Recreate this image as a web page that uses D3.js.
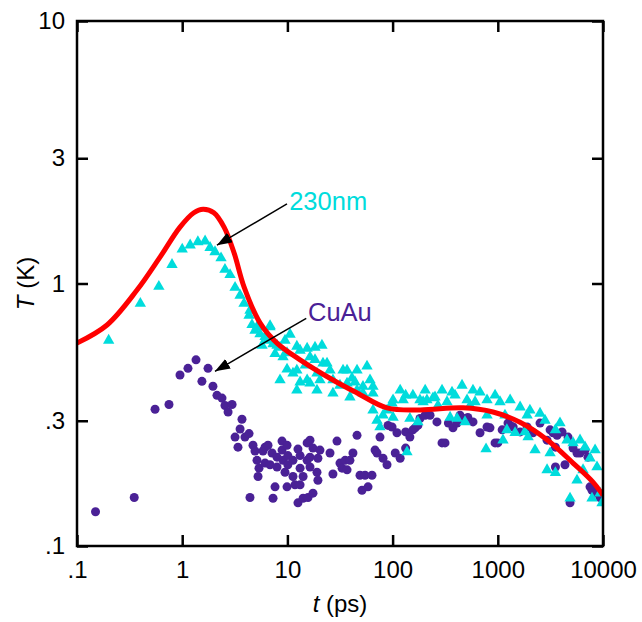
<!DOCTYPE html>
<html>
<head>
<meta charset="utf-8">
<script src="https://cdn.jsdelivr.net/npm/d3@7"></script>
<style>
  html, body { margin: 0; padding: 0; background: #fff; }
  svg text { font-family: "Liberation Sans", Arial, sans-serif; }
</style>
</head>
<body>
<svg id="chart" width="642" height="622"></svg>
<script>
// t (ps), T (K)
var fitCurve = [
  [0.1, 0.593], [0.193, 0.695], [0.372, 0.944], [0.615, 1.26], [0.953, 1.64], [1.29, 1.86],
  [1.58, 1.92], [2.0, 1.86], [2.5, 1.64], [3.11, 1.31], [3.87, 0.971], [5.49, 0.708],
  [7.96, 0.593], [13.2, 0.512], [27.1, 0.429], [45.9, 0.383], [88.5, 0.336],
  [182, 0.330], [467, 0.336], [900, 0.324], [1626, 0.296], [2938, 0.254], [5190, 0.207],
  [8035, 0.175], [10000, 0.156]
];

var film230 = [
  [0.20, 0.607], [0.40, 0.839], [0.60, 0.974], [0.80, 1.18], [1.0, 1.35], [1.19, 1.40],
  [1.41, 1.44], [1.65, 1.45], [1.84, 1.37], [2.05, 1.32], [2.34, 1.25], [2.55, 1.13],
  [2.85, 1.08], [3.18, 0.965], [3.55, 0.901], [3.87, 0.839], [4.32, 0.756], [4.61, 0.696],
  [4.92, 0.662], [5.49, 0.642], [6.13, 0.627], [6.40, 0.607], [6.84, 0.683], [7.30, 0.588],
  [7.97, 0.581], [8.51, 0.571], [9.09, 0.525], [9.92, 0.544], [9.92, 0.471], [11.3, 0.455],
  [12.3, 0.576], [12.3, 0.467], [12.3, 0.392], [13.2, 0.421], [15.4, 0.566], [15.4, 0.429],
  [16.4, 0.525], [18.3, 0.571], [19.1, 0.455], [19.1, 0.392], [21.3, 0.581], [21.8, 0.497],
  [20.4, 0.429], [23.8, 0.497], [27.1, 0.429], [27.1, 0.382], [33.8, 0.467], [36.9, 0.467],
  [36.9, 0.417], [41.1, 0.436], [45.9, 0.467], [45.9, 0.392], [52.3, 0.405], [57.1, 0.484],
  [61.0, 0.429], [65.1, 0.382], [52.3, 0.382], [39.3, 0.369], [65.1, 0.329], [71.1, 0.301],
  [75.9, 0.284], [81.1, 0.315], [88.5, 0.329], [98.8, 0.350], [101, 0.309], [101, 0.360],
  [118, 0.392], [126, 0.360], [137, 0.228], [146, 0.306], [156, 0.375], [174, 0.297],
  [182, 0.360], [195, 0.354], [212, 0.360], [242, 0.366], [253, 0.369], [295, 0.392],
  [329, 0.354], [352, 0.309], [367, 0.385], [410, 0.306], [457, 0.409], [488, 0.297],
  [510, 0.360], [545, 0.343], [581, 0.392], [678, 0.385], [773, 0.234], [790, 0.360],
  [790, 0.315], [1050, 0.354], [1120, 0.253], [1170, 0.315], [1220, 0.277], [1460, 0.270],
  [1630, 0.338], [1810, 0.272], [1900, 0.315], [1940, 0.260], [2260, 0.232], [2520, 0.320],
  [2940, 0.195], [3140, 0.226], [3530, 0.190], [3900, 0.294], [4550, 0.253], [4860, 0.152],
  [5190, 0.247], [5660, 0.178], [6460, 0.195], [6750, 0.238], [7530, 0.216], [7860, 0.152],
  [8770, 0.200], [9370, 0.159], [9790, 0.146],
  [8.51, 0.429], [16.4, 0.417], [65.1, 0.405], [4.41, 0.790], [5.14, 0.683], [6.84, 0.690],
  [5.74, 0.581], [7.63, 0.540], [9.49, 0.607], [10.6, 0.640], [13.2, 0.556], [14.8, 0.488],
  [18.3, 0.512], [25.4, 0.467], [31.6, 0.409], [44.0, 0.421], [133, 0.375], [204, 0.392],
  [392, 0.375], [270, 0.343], [608, 0.354], [942, 0.375], [1310, 0.360], [2020, 0.329],
  [2810, 0.301], [3530, 0.277], [6050, 0.253], [8410, 0.232]
];

var cuAu = [
  [0.15, 0.135], [0.35, 0.153], [0.552, 0.332], [0.749, 0.346], [0.953, 0.448], [1.135, 0.475],
  [1.353, 0.512], [1.54, 0.424], [1.76, 0.475], [1.96, 0.406], [2.14, 0.375], [2.39, 0.366],
  [2.55, 0.343], [2.73, 0.324], [2.98, 0.346], [3.18, 0.260], [3.39, 0.238], [3.55, 0.279],
  [3.70, 0.304], [3.95, 0.260], [4.32, 0.268], [4.41, 0.153], [4.71, 0.242], [4.92, 0.230],
  [5.14, 0.212], [5.26, 0.184], [5.37, 0.198], [5.86, 0.230], [6.13, 0.238], [6.13, 0.207],
  [6.54, 0.242], [6.84, 0.204], [7.14, 0.226], [7.30, 0.152], [7.63, 0.168], [7.97, 0.218],
  [7.97, 0.200], [8.89, 0.251], [8.89, 0.232], [9.09, 0.212], [9.49, 0.191], [9.92, 0.242],
  [9.92, 0.168], [10.1, 0.221], [10.1, 0.204], [11.3, 0.212], [11.3, 0.184], [11.8, 0.171],
  [12.6, 0.234], [12.6, 0.146], [13.2, 0.221], [13.2, 0.198], [13.2, 0.171], [14.1, 0.184],
  [14.1, 0.152], [15.4, 0.247], [15.4, 0.212], [15.7, 0.153], [16.4, 0.253], [16.4, 0.218],
  [16.4, 0.200], [17.5, 0.236], [17.5, 0.159], [19.1, 0.191], [19.5, 0.216], [19.5, 0.178],
  [20.4, 0.232], [25.4, 0.226], [27.1, 0.188], [29.6, 0.251], [31.6, 0.207], [33.1, 0.198],
  [35.4, 0.212], [36.9, 0.195], [39.3, 0.212], [42.0, 0.226], [45.9, 0.264], [49.0, 0.186],
  [51.2, 0.163], [54.7, 0.186], [58.4, 0.168], [63.7, 0.186], [68.1, 0.232], [71.1, 0.226],
  [75.9, 0.260], [81.1, 0.216], [88.5, 0.204], [90.5, 0.288], [98.8, 0.284], [106, 0.226],
  [110, 0.270], [118, 0.216], [133, 0.272], [133, 0.236], [146, 0.260], [156, 0.277],
  [164, 0.282], [174, 0.288], [182, 0.306], [204, 0.315], [227, 0.315], [264, 0.297],
  [295, 0.247], [315, 0.247], [339, 0.294], [375, 0.282], [410, 0.294], [437, 0.315],
  [467, 0.306], [519, 0.309], [581, 0.297], [678, 0.270], [790, 0.284], [843, 0.282],
  [942, 0.247], [1000, 0.247], [1100, 0.277], [1250, 0.294], [1310, 0.288], [1400, 0.284],
  [1630, 0.272], [1900, 0.284], [2160, 0.270], [2520, 0.294], [2940, 0.253], [3140, 0.277],
  [3350, 0.270], [3530, 0.238], [3530, 0.200], [3660, 0.264], [4080, 0.272], [4350, 0.204],
  [4650, 0.260], [5190, 0.236], [5660, 0.226], [6050, 0.226], [6750, 0.232], [7200, 0.218],
  [7530, 0.168], [7860, 0.163], [8770, 0.159], [9370, 0.153], [4860, 0.146]
];

var xTicks = [0.1, 1, 10, 100, 1000, 10000];
var yTicks = [0.1, 0.3, 1, 3, 10];

// annotation: label anchor and arrow (tail -> tip), in data units
var notes = [
  { text: '230nm', color: '#00dcdc', at: [10.4, 1.90], from: [9.91, 2.01], to: [2.14, 1.40] },
  { text: 'CuAu', color: '#4a2196', at: [15.7, 0.717], from: [15.1, 0.737], to: [2.05, 0.463] }
];

var svg = d3.select('#chart');
var x = d3.scaleLog().domain([0.1, 10000]).range([77, 603]);
var y = d3.scaleLog().domain([0.1, 10]).range([546, 21]);

function fmtTick(v) {
  return v < 1 ? String(v).replace(/^0/, '') : String(v);
}

svg.append('defs').append('clipPath').attr('id', 'plotclip')
  .append('rect').attr('x', 77).attr('y', 21).attr('width', 526).attr('height', 525);
svg.select('defs').append('marker')
  .attr('id', 'head').attr('markerUnits', 'userSpaceOnUse')
  .attr('markerWidth', 16).attr('markerHeight', 12)
  .attr('refX', 15).attr('refY', 5.5).attr('orient', 'auto')
  .append('path').attr('d', 'M0,0 L15,5.5 L0,11 Z').attr('fill', '#000');

var plot = svg.append('g').attr('clip-path', 'url(#plotclip)');

plot.append('g').selectAll('circle').data(cuAu).enter().append('circle')
  .attr('cx', function (d) { return x(d[0]); })
  .attr('cy', function (d) { return y(d[1]); })
  .attr('r', 4.5)
  .attr('fill', '#4a2196');

var tri = d3.symbol().type(d3.symbolTriangle).size(56);
plot.append('g').selectAll('path').data(film230).enter().append('path')
  .attr('d', tri)
  .attr('transform', function (d) { return 'translate(' + x(d[0]) + ',' + y(d[1]) + ')'; })
  .attr('fill', '#00dcdc');

var line = d3.line()
  .x(function (d) { return x(d[0]); })
  .y(function (d) { return y(d[1]); })
  .curve(d3.curveCatmullRom.alpha(0.5));
plot.append('path').datum(fitCurve).attr('d', line)
  .attr('fill', 'none').attr('stroke', '#ff0000').attr('stroke-width', 5)
  .attr('stroke-linejoin', 'round');

// annotations
notes.forEach(function (n) {
  svg.append('line')
    .attr('x1', x(n.from[0])).attr('y1', y(n.from[1]))
    .attr('x2', x(n.to[0])).attr('y2', y(n.to[1]))
    .attr('stroke', '#000').attr('stroke-width', 1.5)
    .attr('marker-end', 'url(#head)');
  svg.append('text')
    .attr('x', x(n.at[0])).attr('y', y(n.at[1]))
    .attr('fill', n.color).attr('font-size', 25.5)
    .text(n.text);
});

// axes, ticks inside
function styleAxis(g) {
  g.select('.domain').remove();
  g.selectAll('.tick line').attr('stroke', '#000').attr('stroke-width', 2.5);
  g.selectAll('.tick text').attr('fill', '#000').attr('font-size', 24)
    .attr('font-family', '"Liberation Sans", Arial, sans-serif');
}
svg.append('g').attr('transform', 'translate(0,546)')
  .call(d3.axisBottom(x).tickValues(xTicks).tickFormat(fmtTick).tickSize(-11).tickPadding(15))
  .call(styleAxis);
svg.append('g').attr('transform', 'translate(0,21)')
  .call(d3.axisTop(x).tickValues(xTicks).tickFormat('').tickSize(-11))
  .call(styleAxis);
svg.append('g').attr('transform', 'translate(77,0)')
  .call(d3.axisLeft(y).tickValues(yTicks).tickFormat(fmtTick).tickSize(-11).tickPadding(12))
  .call(styleAxis);
svg.append('g').attr('transform', 'translate(603,0)')
  .call(d3.axisRight(y).tickValues(yTicks).tickFormat('').tickSize(-11))
  .call(styleAxis);

svg.append('rect').attr('x', 77).attr('y', 21).attr('width', 526).attr('height', 525)
  .attr('fill', 'none').attr('stroke', '#000').attr('stroke-width', 2.5);

// axis titles
var xt = svg.append('text').attr('x', 340).attr('y', 612).attr('text-anchor', 'middle')
  .attr('font-size', 24).attr('fill', '#000');
xt.append('tspan').attr('font-style', 'italic').text('t');
xt.append('tspan').text(' (ps)');

var yt = svg.append('text').attr('transform', 'translate(34,283.5) rotate(-90)')
  .attr('text-anchor', 'middle').attr('font-size', 24).attr('fill', '#000');
yt.append('tspan').attr('font-style', 'italic').text('T');
yt.append('tspan').text(' (K)');
</script>
</body>
</html>
